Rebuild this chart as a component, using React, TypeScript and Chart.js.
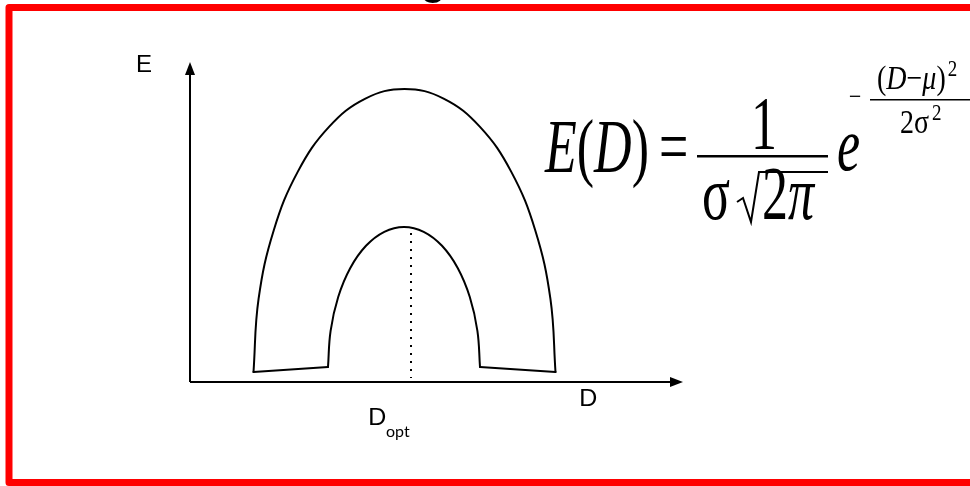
import React, { useEffect, useRef } from "react";
import { Chart, registerables } from "chart.js";

Chart.register(...registerables);

// Schematic units: D along x (0..493), E along y (0..320)
const xRange = [0, 493];
const yRange = [0, 320];

const outerArchD = [63.5, 68.6, 83.7, 107.7, 139, 175.4, 214.5, 253.6, 290, 321.3, 345.3, 360.4, 365.5];
const outerArchE = [10, 83.3, 151.5, 210.1, 255.1, 283.4, 293, 283.4, 255.1, 210.1, 151.5, 83.3, 10];

const innerArchD = [290, 287.4, 279.8, 267.7, 252, 233.7, 214, 194.3, 176, 160.3, 148.2, 140.6, 138];
const innerArchE = [15, 51.2, 85, 114, 136.2, 150.2, 155, 150.2, 136.2, 114, 85, 51.2, 15];

const leftFootD = [63.5, 138];
const leftFootE = [10, 15];
const rightFootD = [290, 365.5];
const rightFootE = [15, 10];

const optLineD = [221, 221];
const optLineE = [149, 4];

const axisLabelY = "E";
const axisLabelX = "D";
const optLabel = "D";
const optSub = "opt";

const zip = (xs: number[], ys: number[]) => xs.map((x, i) => ({ x, y: ys[i] }));

const SERIF = '"Liberation Serif", "Times New Roman", serif';

function piece(ctx: CanvasRenderingContext2D, text: string, x: number, y: number, size: number, italic: boolean, sy: number) {
  ctx.save();
  ctx.font = `${italic ? "italic " : ""}${size}px ${SERIF}`;
  ctx.textBaseline = "alphabetic";
  ctx.textAlign = "left";
  ctx.translate(x, y);
  ctx.scale(1, sy);
  ctx.fillText(text, 0, 0);
  const w = ctx.measureText(text).width;
  ctx.restore();
  return x + w;
}

const diagramPlugin = {
  id: "diagram",
  afterDraw(chart: any) {
    const ctx: CanvasRenderingContext2D = chart.ctx;
    const { left, right, top, bottom } = chart.chartArea;
    ctx.save();
    ctx.fillStyle = "#000";
    ctx.strokeStyle = "#000";

    // cut-off slide title glyph
    ctx.font = `bold 40px "Liberation Sans", Arial, sans-serif`;
    ctx.fillText("g", 421, -5);

    // axes
    ctx.lineWidth = 2;
    ctx.beginPath();
    ctx.moveTo(left, bottom);
    ctx.lineTo(right - 10, bottom);
    ctx.moveTo(left, bottom);
    ctx.lineTo(left, top + 10);
    ctx.stroke();
    ctx.beginPath();
    ctx.moveTo(right, bottom);
    ctx.lineTo(right - 13, bottom - 5);
    ctx.lineTo(right - 13, bottom + 5);
    ctx.closePath();
    ctx.fill();
    ctx.beginPath();
    ctx.moveTo(left, top);
    ctx.lineTo(left - 5, top + 13);
    ctx.lineTo(left + 5, top + 13);
    ctx.closePath();
    ctx.fill();

    // axis labels
    ctx.font = `24px "Liberation Sans", Arial, sans-serif`;
    ctx.fillText(axisLabelY, 136, 72);
    ctx.font = `24px Lato, "Liberation Sans", sans-serif`;
    ctx.fillText(axisLabelX, 579, 406);
    ctx.fillText(optLabel, 368, 425);
    ctx.font = `16px Lato, "Liberation Sans", sans-serif`;
    ctx.fillText(optSub, 386, 437);

    // formula
    const S = 52, SY = 1.45;
    let x = 545;
    x = piece(ctx, "E", x, 172, S, true, SY);
    x = piece(ctx, "(", x, 172, S, false, SY);
    x = piece(ctx, "D", x, 172, S, true, SY);
    x = piece(ctx, ")", x, 172, S, false, SY);
    piece(ctx, "=", 659, 172, S, false, SY);
    ctx.fillRect(697, 155, 131, 2.5);
    piece(ctx, "1", 751, 149, S, false, SY);
    piece(ctx, "σ", 702, 219, S, false, SY);
    ctx.lineWidth = 2;
    ctx.beginPath();
    ctx.moveTo(737, 202);
    ctx.lineTo(743, 198);
    ctx.lineTo(751, 222);
    ctx.lineTo(759, 172);
    ctx.lineTo(828, 172);
    ctx.stroke();
    const x2 = piece(ctx, "2", 762, 219, S, false, SY);
    piece(ctx, "π", x2, 219, S, true, SY);
    piece(ctx, "e", 837, 170, S, true, SY);

    const s = 28, sy = 1.2;
    piece(ctx, "−", 849, 105, 22, false, sy);
    ctx.fillRect(870, 99, 100, 1.5);
    let x3 = piece(ctx, "(", 877, 89, s, false, sy);
    x3 = piece(ctx, "D", x3, 89, s, true, sy);
    x3 = piece(ctx, "−", x3, 89, s, false, sy);
    x3 = piece(ctx, "μ", x3, 89, s, true, sy);
    x3 = piece(ctx, ")", x3, 89, s, false, sy);
    piece(ctx, "2", x3 + 2, 76, 19, false, sy);
    let x4 = piece(ctx, "2", 900, 133, s, false, sy);
    x4 = piece(ctx, "σ", x4, 133, s, false, sy);
    piece(ctx, "2", x4 + 3, 120, 19, false, sy);

    // red frame
    ctx.strokeStyle = "#ff0000";
    ctx.lineWidth = 7;
    ctx.lineJoin = "round";
    ctx.strokeRect(9, 7.5, 1000, 475);
    ctx.restore();
  },
};

export default function App() {
  const ref = useRef<HTMLCanvasElement | null>(null);
  useEffect(() => {
    document.body.style.margin = "0";
    const canvas = ref.current;
    if (!canvas) return;
    const line = (data: { x: number; y: number }[], tension: number, extra: any = {}) => ({
      data,
      showLine: true,
      borderColor: "#000",
      borderWidth: 2,
      pointRadius: 0,
      tension,
      fill: false,
      borderCapStyle: "round",
      borderJoinStyle: "round",
      ...extra,
    });
    const chart = new Chart(canvas, {
      type: "scatter",
      data: {
        datasets: [
          line(zip(outerArchD, outerArchE), 0.4),
          line(zip(innerArchD, innerArchE), 0.4),
          line(zip(leftFootD, leftFootE), 0),
          line(zip(rightFootD, rightFootE), 0),
          line(zip(optLineD, optLineE), 0, { borderDash: [2, 6], borderCapStyle: "butt", borderWidth: 2 }),
        ] as any,
      },
      options: {
        responsive: false,
        animation: false,
        events: [],
        layout: { padding: { left: 190, right: 287, top: 62, bottom: 104 } },
        plugins: { legend: { display: false }, tooltip: { enabled: false }, title: { display: false } },
        scales: {
          x: { type: "linear", min: xRange[0], max: xRange[1], display: false },
          y: { type: "linear", min: yRange[0], max: yRange[1], display: false },
        },
      },
      plugins: [diagramPlugin],
    });
    return () => chart.destroy();
  }, []);
  return (
    <div style={{ position: "fixed", left: 0, top: 0, width: 970, height: 486, background: "#fff" }}>
      <canvas ref={ref} width={970} height={486} style={{ display: "block" }} />
    </div>
  );
}
